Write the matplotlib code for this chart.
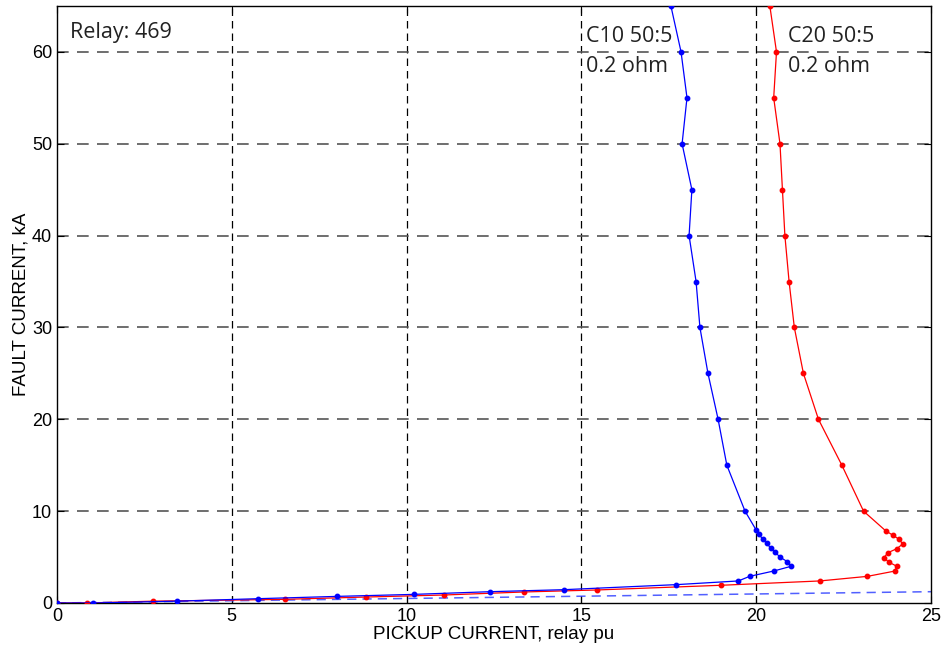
import matplotlib
matplotlib.use('Agg')
import matplotlib.pyplot as plt

# C10 50:5, 0.2 ohm burden (blue)
blue_x = [0, 1.02, 3.42, 5.75, 8.02, 10.22, 12.38, 14.5, 17.72, 19.49, 19.81, 20.52, 21.0,
          20.89, 20.68, 20.55, 20.41, 20.30, 20.18, 20.07, 19.99, 19.68, 19.16, 18.91,
          18.62, 18.39, 18.28, 18.08, 18.16, 17.88, 18.02, 17.85, 17.56]
blue_y = [0, 0.0, 0.2, 0.47, 0.72, 0.94, 1.23, 1.45, 2.0, 2.4, 2.9, 3.5, 4.0,
          4.5, 5.0, 5.5, 6.0, 6.5, 7.0, 7.5, 8.0, 10, 15, 20,
          25, 30, 35, 40, 45, 50, 55, 60, 65]

# C20 50:5, 0.2 ohm burden (red)
red_x = [0, 0.87, 2.75, 6.53, 8.84, 11.07, 13.36, 15.46, 19.0, 21.82, 23.18, 23.97, 24.02,
         23.79, 23.65, 23.77, 24.02, 24.19, 24.09, 23.9, 23.7, 23.07, 22.45, 21.78,
         21.35, 21.09, 20.94, 20.82, 20.75, 20.68, 20.5, 20.58, 20.39]
red_y = [0, 0, 0.2, 0.4, 0.65, 0.87, 1.2, 1.42, 1.93, 2.4, 2.9, 3.48, 4.0,
         4.46, 4.93, 5.48, 5.91, 6.42, 6.93, 7.4, 7.87, 10, 15, 20,
         25, 30, 35, 40, 45, 50, 55, 60, 65]

# linear (unsaturated) reference
lin_x = [0, 25]
lin_y = [0, 1.23]

x_ticks = [0, 5, 10, 15, 20, 25]
y_ticks = [0, 10, 20, 30, 40, 50, 60]

fig = plt.figure(figsize=(9.43, 6.56), dpi=100)
ax = fig.add_axes([0.0604, 0.0808, 0.9269, 0.9101])

# grid: vertical black dashes, horizontal grey dashes
for xv in x_ticks[1:-1]:
    ax.axvline(xv, color='black', lw=0.9, dashes=(6, 4), zorder=1)
for yv in y_ticks[1:]:
    ax.axhline(yv, color='#555555', lw=1.2, dashes=(7, 5), zorder=1)

ax.plot(lin_x, lin_y, color='#3344ff', lw=1.1, dashes=(6, 4), alpha=0.85, zorder=2)
ax.plot(red_x, red_y, color='red', lw=0.9, marker='o', ms=3.2, zorder=3)
ax.plot(blue_x, blue_y, color='blue', lw=0.9, marker='o', ms=3.2, zorder=4)

ax.set_xlim(0, 25)
ax.set_ylim(0, 65)
ax.set_xticks(x_ticks)
ax.set_yticks(y_ticks)
ax.tick_params(direction='in', length=5, labelsize=13, top=True, right=True)
for s in ax.spines.values():
    s.set_linewidth(1.0)

ax.set_xlabel('PICKUP CURRENT, relay pu', fontsize=13.5, labelpad=1, family='Liberation Sans')
ax.set_ylabel('FAULT CURRENT, kA', fontsize=13.5, labelpad=2, family='Liberation Sans')
for lbl in ax.get_xticklabels() + ax.get_yticklabels():
    lbl.set_family('Liberation Sans')

ax.text(0.37, 63.3, 'Relay: 469', fontsize=15.5, color='#222222', family='Open Sans',
        va='top', ha='left')
ax.text(15.13, 62.8, 'C10 50:5\n0.2 ohm', fontsize=15.5, color='#222222', family='Open Sans',
        va='top', ha='left', linespacing=1.55)
ax.text(20.9, 62.8, 'C20 50:5\n0.2 ohm', fontsize=15.5, color='#222222', family='Open Sans',
        va='top', ha='left', linespacing=1.55)

fig.savefig('out.png', dpi=100)
